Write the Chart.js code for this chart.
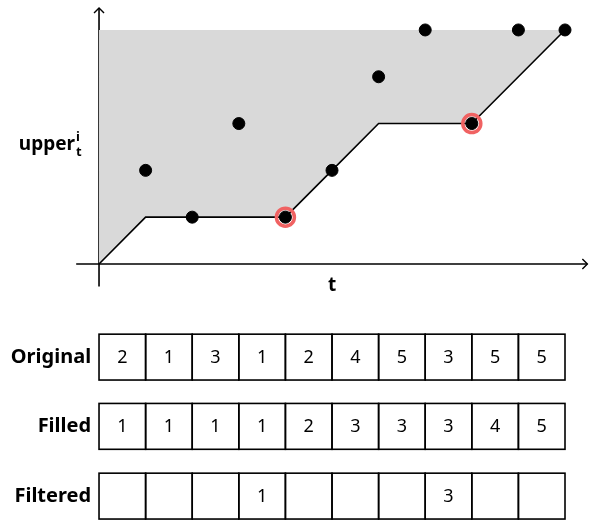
<!DOCTYPE html>
<html>
<head>
<meta charset="utf-8">
<script src="https://cdn.jsdelivr.net/npm/chart.js@4"></script>
<style>
  html, body { margin: 0; padding: 0; background: #fff; }
  #wrap { width: 589px; height: 524px; }
</style>
</head>
<body>
<div id="wrap"><canvas id="chart" width="589" height="524"></canvas></div>
<script>
// данные
const positions = [1, 2, 3, 4, 5, 6, 7, 8, 9, 10];
const original = [2, 1, 3, 1, 2, 4, 5, 3, 5, 5];
const filled = [1, 1, 1, 1, 2, 3, 3, 3, 4, 5];
const filtered = [null, null, null, 1, null, null, null, 3, null, null];
const upperBound = 5;
const rowLabels = ['Original', 'Filled', 'Filtered'];
const rowTops = [-1.5, -2.98, -4.47];   // в единицах оси y
const rowHeight = 0.98;

const FONT = '"Noto Sans", "DejaVu Sans", sans-serif';

// ступенчатая линия начинается в (0,0)
const lineData = [{x: 0, y: 0}].concat(positions.map((p, i) => ({x: p, y: filled[i]})));
const pointData = positions.map((p, i) => ({x: p, y: original[i]}));
const ringData = positions.map((p, i) => filtered[i] == null ? null : {x: p, y: filtered[i]}).filter(d => d);

// оси со стрелками и таблицы
const decor = {
  id: 'decor',
  beforeDatasetsDraw(chart) {
    const ctx = chart.ctx, xs = chart.scales.x, ys = chart.scales.y;
    const x0 = xs.getPixelForValue(0), y0 = ys.getPixelForValue(0);
    ctx.save();
    ctx.strokeStyle = '#000';
    ctx.lineWidth = 1.6;
    ctx.beginPath();
    ctx.moveTo(xs.getPixelForValue(-0.49), y0);
    ctx.lineTo(xs.getPixelForValue(10.48), y0);
    ctx.moveTo(x0, ys.getPixelForValue(-0.48));
    ctx.lineTo(x0, ys.getPixelForValue(5.47));
    ctx.stroke();
    // наконечники
    const xe = xs.getPixelForValue(10.48), ye = ys.getPixelForValue(5.47);
    ctx.lineWidth = 1.4;
    ctx.beginPath();
    ctx.moveTo(xe - 5, y0 - 5); ctx.lineTo(xe, y0); ctx.lineTo(xe - 5, y0 + 5);
    ctx.moveTo(x0 - 5, ye + 5); ctx.lineTo(x0, ye); ctx.lineTo(x0 + 5, ye + 5);
    ctx.stroke();

    ctx.fillStyle = '#000';
    ctx.font = 'bold 19px ' + FONT;
    ctx.textAlign = 'center';
    ctx.textBaseline = 'middle';
    ctx.fillText('t', xs.getPixelForValue(5), ys.getPixelForValue(-0.47));
    ctx.textAlign = 'right';
    const ly = ys.getPixelForValue(2.5) - 2;
    ctx.fillText('upper', 75, ly);
    ctx.font = 'bold 13px ' + FONT;
    ctx.textAlign = 'left';
    ctx.fillText('i', 76, ly - 8);
    ctx.fillText('t', 76, ly + 7);

    // таблицы
    const rows = [original, filled, filtered];
    rows.forEach((vals, r) => {
      const top = ys.getPixelForValue(rowTops[r]);
      const bot = ys.getPixelForValue(rowTops[r] - rowHeight);
      ctx.lineWidth = 1.6;
      ctx.strokeStyle = '#000';
      positions.forEach((p, i) => {
        const l = xs.getPixelForValue(p - 1), rr = xs.getPixelForValue(p);
        ctx.strokeRect(l, top, rr - l, bot - top);
        if (vals[i] != null) {
          ctx.font = '18px ' + FONT;
          ctx.textAlign = 'center';
          ctx.fillText(String(vals[i]), (l + rr) / 2, (top + bot) / 2 + 1);
        }
      });
      ctx.font = 'bold 20px ' + FONT;
      ctx.textAlign = 'right';
      ctx.fillText(rowLabels[r], xs.getPixelForValue(-0.17), (top + bot) / 2);
    });
    ctx.restore();
  }
};

new Chart(document.getElementById('chart'), {
  type: 'scatter',
  data: {
    datasets: [
      {
        type: 'line',
        data: lineData,
        borderColor: '#000',
        borderWidth: 1.6,
        pointRadius: 0,
        fill: {value: upperBound},
        backgroundColor: '#d9d9d9',
        tension: 0,
        order: 3
      },
      {
        data: pointData,
        backgroundColor: '#000',
        borderColor: '#000',
        pointRadius: 6,
        order: 1
      },
      {
        data: ringData,
        backgroundColor: 'rgba(0,0,0,0)',
        borderColor: '#f06262',
        borderWidth: 3.5,
        pointRadius: 9,
        order: 2
      }
    ]
  },
  options: {
    responsive: false,
    animation: false,
    layout: {padding: 0, autoPadding: false},
    plugins: {legend: {display: false}, tooltip: {enabled: false}},
    scales: {
      x: {type: 'linear', display: false, min: -2.125, max: 10.515},
      y: {type: 'linear', display: false, min: -5.556, max: 5.64}
    }
  },
  plugins: [decor]
});
</script>
</body>
</html>
